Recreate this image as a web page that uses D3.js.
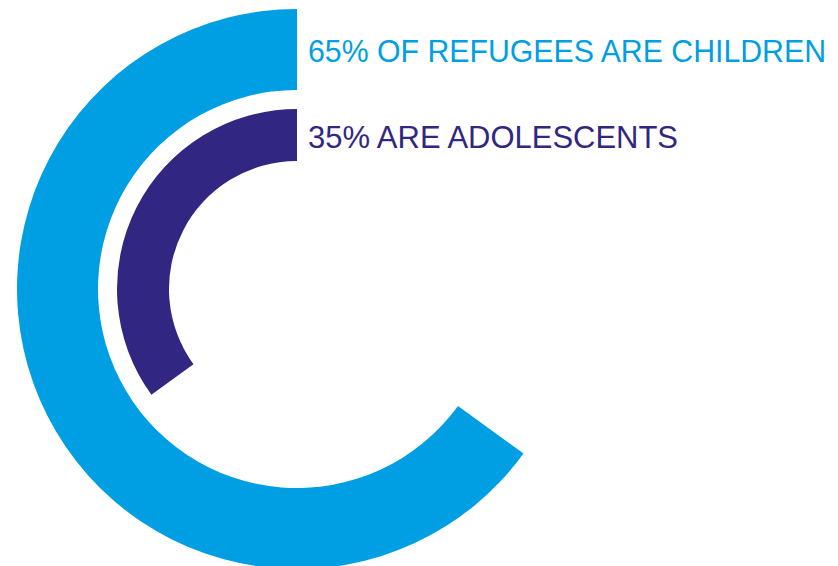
<!DOCTYPE html>
<html>
<head>
<meta charset="utf-8">
<script src="https://cdn.jsdelivr.net/npm/d3@7"></script>
<style>
	html, body { margin: 0; padding: 0; background: #fff; }
	svg { display: block; }
</style>
</head>
<body>
<div id="chart"></div>
<script>
	var labels = ['65% OF REFUGEES ARE CHILDREN', '35% ARE ADOLESCENTS'];
	var shares = [65, 35];
	var colors = ['#009fe3', '#312783'];

	var width = 838, height = 566;
	var center = {x: 297, y: 289};
	var rings = [{inner: 199, outer: 280}, {inner: 128, outer: 180}];
	var labelWidths = [518, 370];

	var svg = d3.select('#chart')
		.append('svg')
		.attr('width', width)
		.attr('height', height);

	// percent -> angle, running counter-clockwise from 12 o'clock
	var angle = d3.scaleLinear()
		.domain([0, 100])
		.range([0, -2 * Math.PI]);

	var g = svg.append('g')
		.attr('transform', 'translate(' + center.x + ',' + center.y + ')');

	shares.forEach(function(s, i) {
		var arc = d3.arc()
			.innerRadius(rings[i].inner)
			.outerRadius(rings[i].outer)
			.startAngle(angle(0))
			.endAngle(angle(s));

		g.append('path')
			.attr('d', arc())
			.attr('fill', colors[i]);

		// label sits beside the top end of its ring, squeezed a bit like the original face
		svg.append('text')
			.attr('x', center.x + 11)
			.attr('y', center.y - (rings[i].inner + rings[i].outer) / 2 + 12.5)
			.attr('fill', colors[i])
			.attr('font-family', 'Liberation Sans, Arial, sans-serif')
			.attr('font-size', 31)
			.attr('textLength', labelWidths[i])
			.attr('lengthAdjust', 'spacingAndGlyphs')
			.text(labels[i]);
	});
</script>
</body>
</html>
